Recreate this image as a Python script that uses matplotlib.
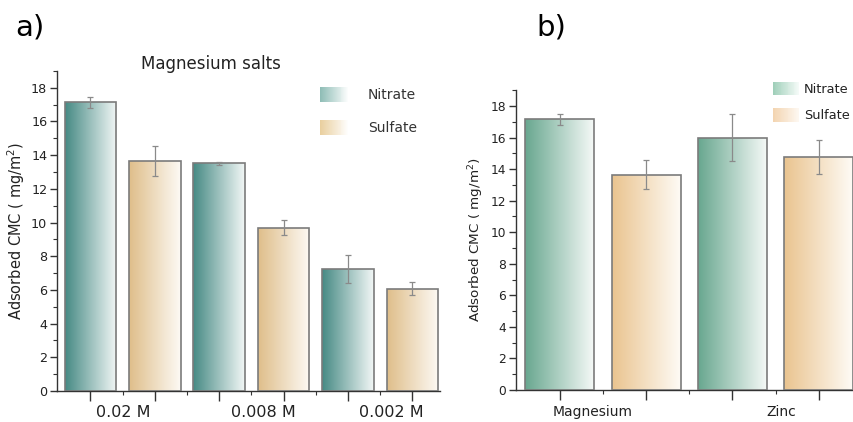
import numpy as np
import matplotlib
matplotlib.use("Agg")
import matplotlib.pyplot as plt
from matplotlib.colors import to_rgb
from matplotlib.patches import Rectangle
from matplotlib.legend_handler import HandlerBase
from matplotlib.ticker import MultipleLocator, FixedLocator

# panel a: magnesium salts at three concentrations
conc_labels = ["0.02 M", "0.008 M", "0.002 M"]
nitrate_a = [17.15, 13.52, 7.25]
nitrate_a_err = [0.33, 0.08, 0.83]
sulfate_a = [13.65, 9.68, 6.08]
sulfate_a_err = [0.90, 0.45, 0.37]

# panel b: magnesium vs zinc
metal_labels = ["Magnesium", "Zinc"]
nitrate_b = [17.15, 16.0]
nitrate_b_err = [0.33, 1.47]
sulfate_b = [13.65, 14.77]
sulfate_b_err = [0.90, 1.05]

EDGE = "#7b7b7b"
ERR = "#8a8a8a"
AX = "#333333"


def gradient_bars(ax, xs, heights, errs, c0, c1):
    bars = ax.bar(xs, heights, width=0.8, facecolor="none", edgecolor=EDGE,
                  linewidth=1.2, zorder=3)
    g = np.linspace(0, 1, 256)
    a = np.array(to_rgb(c0))
    b = np.array(to_rgb(c1))
    img = (a[None, :] * (1 - g[:, None]) + b[None, :] * g[:, None])[None, :, :]
    for p in bars.patches:
        x0, w, h = p.get_x(), p.get_width(), p.get_height()
        im = ax.imshow(img, extent=[x0, x0 + w, 0, h], aspect="auto",
                       origin="lower", zorder=2, interpolation="bilinear")
        im.set_clip_path(p)
    ax.errorbar(xs, heights, yerr=errs, fmt="none", ecolor=ERR,
                elinewidth=0.9, capsize=2.5, capthick=0.9, zorder=4)
    return bars


class GradHandler(HandlerBase):
    def __init__(self, c0, c1):
        super().__init__()
        self.c0 = np.array(to_rgb(c0))
        self.c1 = np.array(to_rgb(c1))

    def create_artists(self, legend, orig_handle, xdescent, ydescent,
                       width, height, fontsize, trans):
        n = 30
        arts = []
        for i in range(n):
            f = i / (n - 1)
            col = self.c0 * (1 - f) + self.c1 * f
            r = Rectangle((-xdescent + i * width / n, -ydescent),
                          width / n * 1.05, height, facecolor=col,
                          edgecolor="none", transform=trans)
            arts.append(r)
        return arts


def style_axes(ax, minors, lsize):
    for s in ["top", "right"]:
        ax.spines[s].set_visible(False)
    for s in ["left", "bottom"]:
        ax.spines[s].set_color(AX)
        ax.spines[s].set_linewidth(1.0)
    ax.set_ylim(0, 19.0)
    ax.set_yticks(np.arange(0, 19, 2))
    ax.yaxis.set_minor_locator(MultipleLocator(1))
    ax.xaxis.set_minor_locator(FixedLocator(minors))
    ax.tick_params(axis="y", which="major", length=5, width=1, color=AX,
                   labelsize=lsize, labelcolor="#222222", pad=2)
    ax.tick_params(axis="y", which="minor", length=3, width=0.8, color=AX)
    ax.tick_params(axis="x", which="major", length=7, width=1, color=AX,
                   labelbottom=False)
    ax.tick_params(axis="x", which="minor", length=3, width=0.8, color=AX)


fig = plt.figure(figsize=(8.54, 4.22), dpi=100)
plt.rcParams["font.family"] = ["DejaVu Sans"]

# ---- panel a
axa = fig.add_axes([0.0667, 0.0735, 0.4485, 0.7585])
xa = np.arange(len(conc_labels)) * 2
gradient_bars(axa, xa, nitrate_a, nitrate_a_err, "#468a84", "#f2f7f6")
gradient_bars(axa, xa + 1, sulfate_a, sulfate_a_err, "#dfbe8a", "#fdfaf5")
axa.set_xlim(-0.52, 5.43)
axa.set_xticks(np.arange(6))
style_axes(axa, [0.5, 1.5, 2.5, 3.5, 4.5], 9.2)
for pos, lab in zip([0.51, 2.68, 4.67], conc_labels):
    axa.text(pos, -0.068, lab, transform=axa.get_xaxis_transform(),
             ha="center", va="center", fontsize=11.5, color="#222222")
axa.set_ylabel("Adsorbed CMC ( mg/m$^2$)", fontsize=10.5, color="#222222",
               labelpad=3)
ha1 = Rectangle((0, 0), 1, 1)
ha2 = Rectangle((0, 0), 1, 1)
axa.legend([ha1, ha2], ["Nitrate", "Sulfate"],
           handler_map={ha1: GradHandler("#8fbdb6", "#ffffff"),
                        ha2: GradHandler("#e9cf9f", "#ffffff")},
           loc="upper left", bbox_to_anchor=(0.687, 0.95), frameon=False,
           borderaxespad=0, borderpad=0, fontsize=10, handlelength=2.1,
           handleheight=1.25, handletextpad=1.35, labelspacing=1.3,
           labelcolor="#333333")

# ---- panel b
axb = fig.add_axes([0.6042, 0.0758, 0.3958, 0.7105])
xb = np.arange(len(metal_labels)) * 2
gradient_bars(axb, xb, nitrate_b, nitrate_b_err, "#68a78f", "#f5f9f7")
gradient_bars(axb, xb + 1, sulfate_b, sulfate_b_err, "#eac48f", "#fefbf6")
axb.set_xlim(-0.51, 3.41)
axb.set_xticks(np.arange(4))
style_axes(axb, [0.5, 1.5, 2.5], 8.8)
for pos, lab in zip([0.38, 2.57], metal_labels):
    axb.text(pos, -0.075, lab, transform=axb.get_xaxis_transform(),
             ha="center", va="center", fontsize=10, color="#222222")
axb.set_ylabel("Adsorbed CMC ( mg/m$^2$)", fontsize=9.7, color="#222222",
               labelpad=3)
hb1 = Rectangle((0, 0), 1, 1)
hb2 = Rectangle((0, 0), 1, 1)
axb.legend([hb1, hb2], ["Nitrate", "Sulfate"],
           handler_map={hb1: GradHandler("#9fcfb9", "#f4faf7"),
                        hb2: GradHandler("#f3d4b0", "#fdf7f0")},
           loc="upper left", bbox_to_anchor=(0.760, 1.027), frameon=False,
           borderaxespad=0, borderpad=0, fontsize=9.3, handlelength=2.0,
           handleheight=1.2, handletextpad=0.4, labelspacing=0.95,
           labelcolor="#222222")

fig.text(0.247, 0.848, "Magnesium salts", ha="center", va="center",
         fontsize=12, color="#222222")
fig.text(0.018, 0.934, "a)", ha="left", va="center", fontsize=21)
fig.text(0.628, 0.934, "b)", ha="left", va="center", fontsize=21)

fig.savefig("out.png", dpi=100)
